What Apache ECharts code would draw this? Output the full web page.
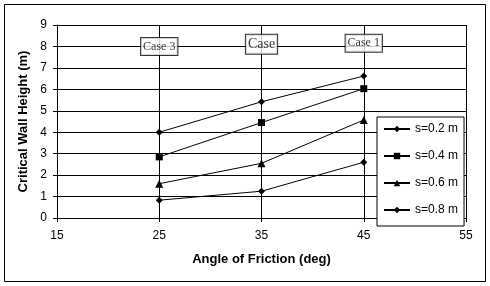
<!DOCTYPE html>
<html><head><meta charset="utf-8">
<script src="https://cdn.jsdelivr.net/npm/echarts@6/dist/echarts.min.js"></script>
<style>html,body{margin:0;padding:0;background:#fff}#c{width:490px;height:286px}</style>
</head><body><div id="c"></div>
<script>
var angles = [25, 35, 45];
var s02 = [4.0, 5.42, 6.62];
var s04 = [2.85, 4.45, 6.03];
var s06 = [1.6, 2.55, 4.57];
var s08 = [0.83, 1.25, 2.6];
var seriesNames = ['s=0.2 m', 's=0.4 m', 's=0.6 m', 's=0.8 m'];
var caseLabels = ['Case 3', 'Case', 'Case 1'];
var caseY = [8.0, 8.1, 8.15];
var xTicks = [15, 25, 35, 45, 55];

function pairs(vals){ return angles.map(function(a,i){ return [a, vals[i]]; }); }
var chart = echarts.init(document.getElementById('c'), null, {renderer:'canvas'});
var mk = [
  {sym:'diamond', size:7},
  {sym:'rect', size:7},
  {sym:'triangle', size:8},
  {sym:'diamond', size:7}
];
var data = [s02, s04, s06, s08];
var series = data.map(function(v,i){
  return {
    name: seriesNames[i], type:'line', data: pairs(v),
    symbol: mk[i].sym, symbolSize: mk[i].size,
    lineStyle:{color:'#000', width:1},
    itemStyle:{color:'#000'},
    emphasis:{disabled:true}, animation:false, z:3
  };
});
var caseFont = [12, 14, 12];
series.push({
  type:'scatter', name:'cases', silent:true, symbolSize:0, animation:false, z:5,
  data: angles.map(function(a,i){
    return {value:[a, caseY[i]], label:{fontSize: caseFont[i]}};
  }),
  label:{show:true, position:'inside',
    formatter:function(p){ return caseLabels[p.dataIndex]; },
    fontFamily:'Liberation Serif', color:'#000',
    backgroundColor:'#fff', borderColor:'#000', borderWidth:1,
    padding:[3,2,2,2]}
});
chart.setOption({
  backgroundColor:'#fff',
  animation:false,
  textStyle:{fontFamily:'Liberation Sans'},
  graphic:[{type:'rect', shape:{x:4.5,y:4.5,width:481,height:277},
    style:{fill:null, stroke:'#000', lineWidth:1}, silent:true}],
  grid:{left:57, right:24, top:25, bottom:68},
  xAxis:{type:'value', min:15, max:55, interval:10,
    name:'Angle of Friction (deg)', nameLocation:'middle', nameGap:35,
    nameTextStyle:{fontWeight:'bold', fontSize:13, color:'#000', fontFamily:'Liberation Sans'},
    axisLine:{lineStyle:{color:'#000', width:1}},
    axisTick:{show:true, length:4, lineStyle:{color:'#000'}},
    axisLabel:{color:'#000', fontSize:12, margin:12, fontFamily:'Liberation Sans'},
    splitLine:{show:true, lineStyle:{color:'#000', width:1}}},
  yAxis:{type:'value', min:0, max:9, interval:1,
    name:'Critical Wall Height (m)', nameLocation:'middle', nameGap:22,
    nameTextStyle:{fontWeight:'bold', fontSize:13, color:'#000', fontFamily:'Liberation Sans'},
    axisLine:{show:true, lineStyle:{color:'#000', width:1}},
    axisTick:{show:true, length:4, lineStyle:{color:'#000'}},
    axisLabel:{color:'#000', fontSize:12, margin:10, fontFamily:'Liberation Sans'},
    splitLine:{show:true, lineStyle:{color:'#000', width:1}}},
  legend:{data:seriesNames, orient:'vertical', left:377, top:117,
    backgroundColor:'#fff', borderColor:'#000', borderWidth:1,
    padding:[6,6,10,6], itemWidth:26, itemHeight:8, itemGap:15,
    textStyle:{color:'#000', fontSize:12, fontFamily:'Liberation Sans'},
    selectedMode:false},
  series: series
});
</script></body></html>
